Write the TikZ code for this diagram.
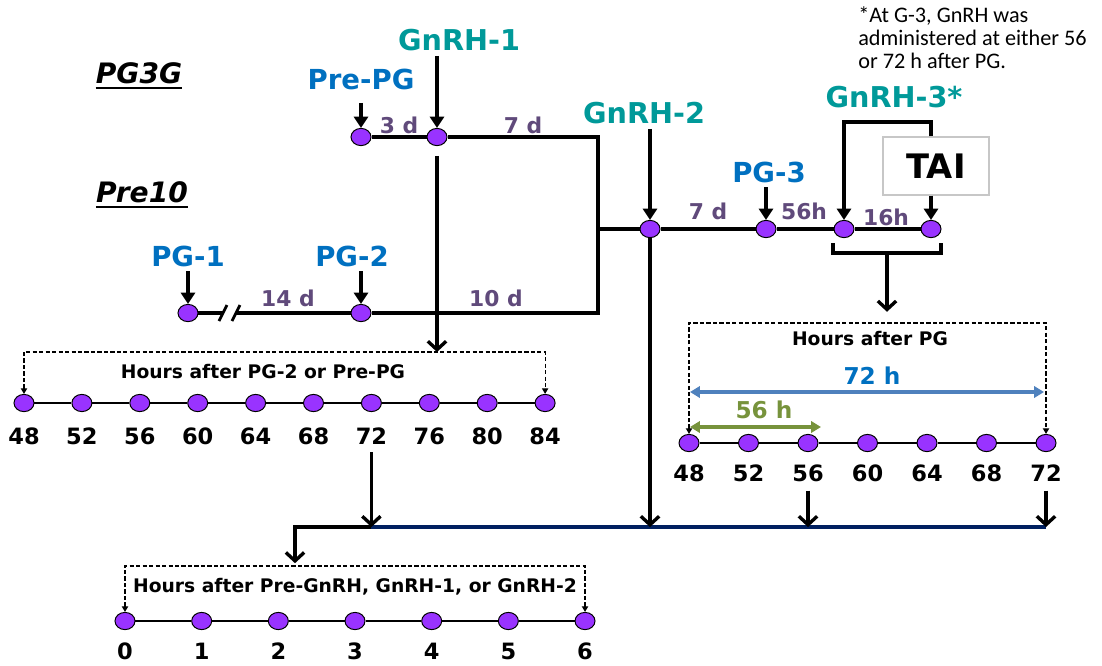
\documentclass[tikz,border=0pt]{standalone}
\usepackage{fontspec}
\setmainfont{DejaVu Sans}
\newfontfamily\notefont{Carlito}
\usepackage{tikz}
\usetikzlibrary{arrows.meta, shapes.geometric, positioning, calc}

\definecolor{dotpurple}{RGB}{153,51,255}
\definecolor{pgblue}{RGB}{0,112,192}
\definecolor{gnteal}{RGB}{0,153,153}
\definecolor{daygray}{RGB}{96,74,123}
\definecolor{spanblue}{RGB}{79,129,189}
\definecolor{spangreen}{RGB}{119,147,60}
\definecolor{busnavy}{RGB}{0,32,96}

\begin{document}
\begin{tikzpicture}[x=0.025cm, y=-0.025cm,
  tdot/.style={ellipse, draw=black, line width=0.7pt, fill=dotpurple,
               minimum width=0.5cm, minimum height=0.43cm, inner sep=0pt},
  pglab/.style={font=\fontsize{19.6}{22}\selectfont\bfseries, text=pgblue},
  gnlab/.style={font=\fontsize{20.4}{23}\selectfont\bfseries, text=gnteal},
  daylab/.style={font=\fontsize{15.5}{18}\selectfont\bfseries, text=daygray},
  grplab/.style={font=\fontsize{20}{23}\selectfont\bfseries\itshape, inner sep=0pt},
  ticklab/.style={font=\fontsize{16}{18}\selectfont\bfseries},
  hrlab/.style={font=\fontsize{13.3}{15}\selectfont\bfseries},
  spanlab/.style={font=\fontsize{16.5}{19}\selectfont\bfseries},
  mainline/.style={line width=2.6pt},
  tline/.style={line width=1.8pt},
  labarrow/.style={-{Triangle[length=8pt, width=10pt]}, line width=2.3pt},
  bigarrow/.style={-{Straight Barb[length=6pt, width=13pt]}, line width=2.4pt},
  dasharrow/.style={dash pattern=on 3pt off 1.6pt, line width=0.8pt,
               {Triangle[length=4pt, width=4.5pt]}-{Triangle[length=4pt, width=4.5pt]}},
  spanarrow/.style={{Triangle[length=7pt, width=8pt]}-{Triangle[length=7pt, width=8pt]}, line width=2.2pt},
]
\useasboundingbox (0,0) rectangle (1102,665);

% protocol names
\node[grplab] (pg3g)  at (139,73)  {PG3G};
\node[grplab] (pre10) at (142,192) {Pre10};
\draw[line width=1.4pt] ([yshift=-3pt]pg3g.south west) -- ([yshift=-3pt]pg3g.south east);
\draw[line width=1.4pt] ([yshift=-3pt]pre10.south west) -- ([yshift=-3pt]pre10.south east);

% treatment days
\node[tdot] (prepg) at (361,137) {};
\node[tdot] (gnrh1) at (437,137) {};
\node[tdot] (pg1)   at (188,313) {};
\node[tdot] (pg2)   at (361,313) {};
\node[tdot] (gnrh2) at (650,229) {};
\node[tdot] (pg3)   at (766,229) {};
\node[tdot] (gnrh3) at (844,229) {};
\node[tdot] (tai)   at (931,229) {};

\node[pglab] (prepglab) at (361,79)  {Pre-PG};
\node[gnlab] (gnrh1lab) at (459,40)  {GnRH-1};
\node[pglab] (pg1lab)   at (188,256) {PG-1};
\node[pglab] (pg2lab)   at (352,256) {PG-2};
\node[gnlab] (gnrh2lab) at (644,113) {GnRH-2};
\node[pglab] (pg3lab)   at (769,172) {PG-3};
\node[gnlab] (gnrh3lab) at (894,97)  {GnRH-3*};

\node[daylab] (d3)   at (399,125) {3 d};
\node[daylab] (d7a)  at (523,125) {7 d};
\node[daylab] (d14)  at (288,298) {14 d};
\node[daylab] (d10)  at (496,298) {10 d};
\node[daylab] (d7b)  at (708,211) {7 d};
\node[daylab] (h56)  at (804,211) {56h};
\node[daylab] (h16)  at (886,217) {16h};

\node[draw=black!22, line width=0.8pt, minimum width=2.65cm, minimum height=1.45cm,
      font=\fontsize{24}{28}\selectfont\bfseries] (taibox) at (936,166) {TAI};

\node[anchor=north west, inner sep=0pt, align=left,
      font=\notefont\fontsize{15.8}{16.4}\selectfont] (note) at (858,6)
  {*At G-3, GnRH was\\administered at either 56\\or 72 h after PG.};

\coordinate (ne)     at (598,137);
\coordinate (se)     at (598,313);
\coordinate (jn)     at (598,229);
\coordinate (brkA)   at (223,313);
\coordinate (brkB)   at (236,313);
\coordinate (g3turn) at (931,122);
\coordinate (bkmid)  at (887,253);
\coordinate (ltop)   at (437,352);
\coordinate (rtop)   at (887,323);
\coordinate (btop)   at (295,566);
\coordinate (busy)   at (0,527);

\draw[mainline] (prepg) -- (gnrh1) -- (ne) -- (se) -- (pg2);
\draw[mainline] (pg1) -- (brkA) (brkB) -- (pg2);
\draw[line width=2pt] ([shift={(-4,8)}]brkA) -- ([shift={(4,-8)}]brkA);
\draw[line width=2pt] ([shift={(-4,8)}]brkB) -- ([shift={(4,-8)}]brkB);
\draw[mainline] (jn) -- (gnrh2) -- (pg3) -- (gnrh3) -- (tai);

\draw[labarrow, shorten <=6pt] (prepglab.south) -- (prepg);
\draw[labarrow] (gnrh1lab.south -| gnrh1) -- (gnrh1);
\draw[labarrow] (pg1lab) -- (pg1);
\draw[labarrow] (pg2lab.south -| pg2) -- (pg2);
\draw[labarrow] (gnrh2lab.south -| gnrh2) -- (gnrh2);
\draw[labarrow] (pg3lab.south -| pg3) -- (pg3);
\draw[labarrow] (taibox.north -| tai) -- (g3turn) -| (gnrh3);
\draw[labarrow] (taibox.south -| tai) -- (tai);

% bracket under GnRH-3 and TAI
\draw[mainline] ([shift={(-11,14)}]gnrh3.center) -- ++(0,10) -| ([shift={(10,14)}]tai.center);
\draw[bigarrow, shorten >=8pt] (bkmid) -- (rtop);

% hours after PG-2 or Pre-PG
\foreach \v [count=\i from 0] in {48,52,...,84} {
  \node[tdot] (l\i) at ({24+57.9*\i},403) {};
  \node[ticklab] (lt\i) at ({24+57.9*\i},436) {\v};
}
\foreach \i [count=\j from 1] in {0,...,8}
  \draw[tline] (l\i) -- (l\j);
\draw[dasharrow] (l0) -- (l0 |- ltop) -- (l9 |- ltop) -- (l9);
\node[hrlab] (lhours) at (263,372) {Hours after PG-2 or Pre-PG};
\draw[bigarrow, shorten <=7pt] (gnrh1) -- (ltop);

% hours after PG
\foreach \v [count=\i from 0] in {48,52,...,72} {
  \node[tdot] (r\i) at ({689+59.5*\i},443) {};
  \node[ticklab] (rt\i) at ({689+59.5*\i},473) {\v};
}
\foreach \i [count=\j from 1] in {0,...,5}
  \draw[tline] (r\i) -- (r\j);
\draw[dasharrow] (r0) -- (r0 |- rtop) -- (r6 |- rtop) -- (r6);
\node[hrlab] (rhours) at (870,339) {Hours after PG};

\coordinate (s72a) at (690,392);
\coordinate (s72b) at (1044,392);
\coordinate (s56a) at (690,427);
\coordinate (s56b) at (821,427);
\draw[spanarrow, spanblue] (s72a) -- (s72b);
\draw[spanarrow, spangreen] (s56a) -- (s56b);
\node[spanlab, text=pgblue]    (lab72) at (872,376) {72 h};
\node[spanlab, text=spangreen] (lab56) at (764,410) {56 h};

% hours after Pre-GnRH, GnRH-1 or GnRH-2
\foreach \v [count=\i from 0] in {0,...,6} {
  \node[tdot] (b\i) at ({125+76.67*\i},621) {};
  \node[ticklab] (bt\i) at ({125+76.67*\i},651) {\v};
}
\foreach \i [count=\j from 1] in {0,...,5}
  \draw[tline] (b\i) -- (b\j);
\draw[dasharrow] (b0) -- (b0 |- btop) -- (b6 |- btop) -- (b6);
\node[hrlab] (bhours) at (355,587) {Hours after Pre-GnRH, GnRH-1, or GnRH-2};

% collecting line
\draw[bigarrow, shorten >=2pt] (lt6 |- busy) -| (btop);
\draw[busnavy, line width=3pt] (lt6 |- busy) -- (rt6 |- busy);
\draw[bigarrow, shorten <=2pt] (lt6) -- (lt6 |- busy);
\draw[bigarrow] (gnrh2) -- (gnrh2 |- busy);
\draw[bigarrow, shorten <=3pt] (rt2) -- (rt2 |- busy);
\draw[bigarrow, shorten <=3pt] (rt6) -- (rt6 |- busy);
\end{tikzpicture}
\end{document}
